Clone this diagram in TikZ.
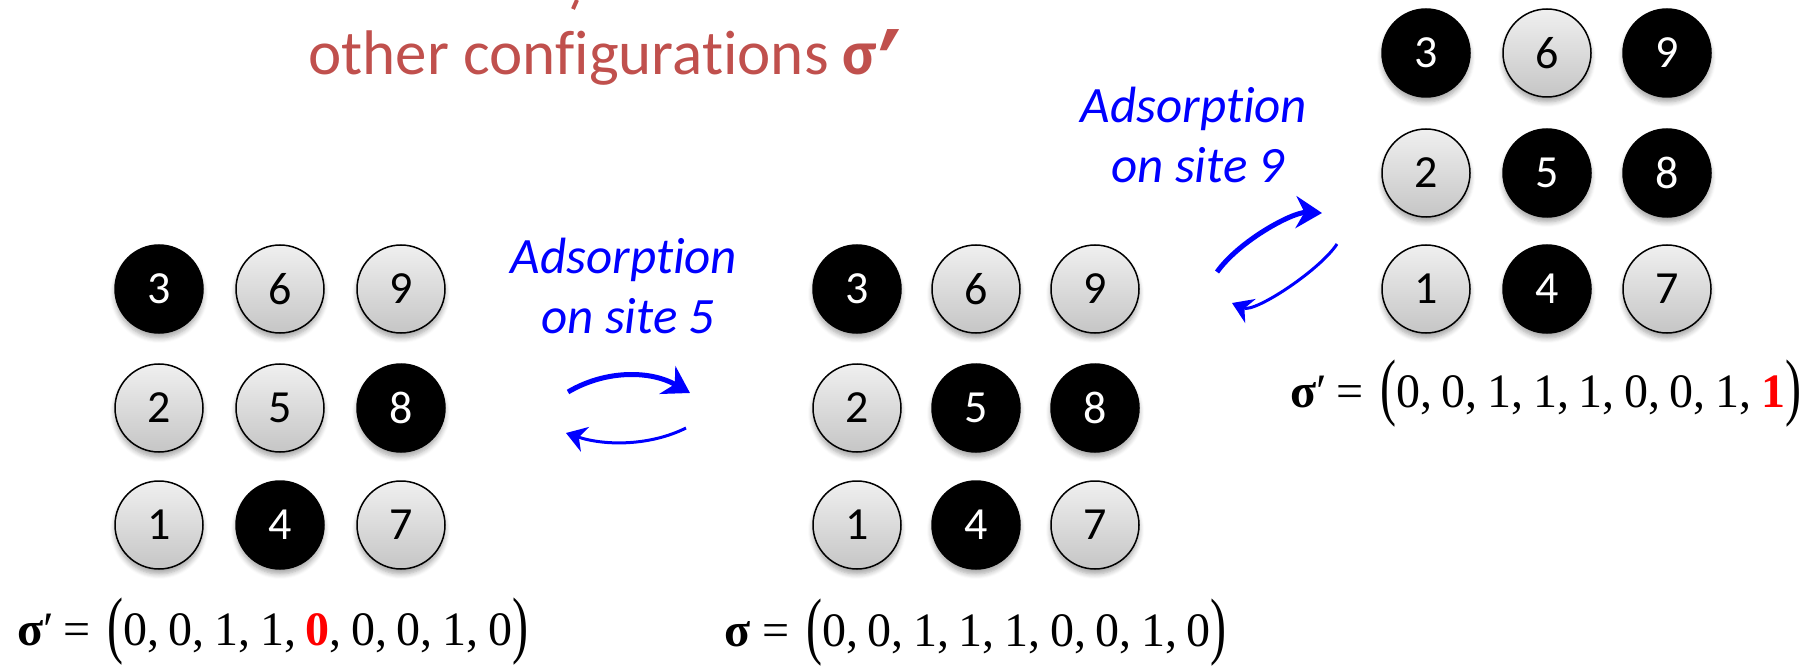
\documentclass[tikz,border=0pt]{standalone}
\usepackage{graphicx}
\usepackage{fontspec}
\setmainfont{Carlito}[Ligatures={NoCommon,NoContextual}]
\newfontfamily\tnr{Liberation Serif}
\newfontfamily\djv{DejaVu Sans}
\usetikzlibrary{arrows.meta,shadows.blur}
\definecolor{titlered}{RGB}{192,80,77}
\definecolor{eqred}{RGB}{255,0,0}
\newcommand\tallpar[1]{\raisebox{-4pt}{\scalebox{1}[1.55]{#1}}}
\newcommand\csep{,\hspace{0.2em}}
\tikzset{
 site/.style={circle, minimum size=88pt, inner sep=0pt, line width=1.5pt,
   font=\fontsize{46}{46}\selectfont,
   blur shadow={shadow xshift=0pt, shadow yshift=-5pt, shadow blur steps=6,
     shadow opacity=35, shadow blur radius=5pt}},
 siteoff/.style={site, draw=black, top color=gray!12, bottom color=gray!45, text=black},
 siteon/.style={site, fill=black, draw=black, text=white},
 lab/.style={text=blue, font=\fontsize{51}{60}\selectfont\itshape, anchor=base, inner sep=0pt},
 eq/.style={anchor=base west, inner sep=0pt, font=\tnr\fontsize{48}{48}\selectfont},
 fwd/.style={blue, line width=5pt, -{Stealth[length=26pt,width=32pt]}},
 bwd/.style={blue, line width=3pt, -{Stealth[length=20pt,width=26pt]}},
}
\begin{document}
\begin{tikzpicture}[x=1pt,y=-1pt]
\useasboundingbox (0,0) rectangle (1816,671);
% title
\node[anchor=base east, inner sep=0pt, text=titlered, font=\fontsize{63}{63}\selectfont] (title) at (902,75) {other configurations {\bfseries σ}\hspace{0.02em}\raisebox{-40pt}{\scalebox{1.4}[1.85]{\djv\bfseries ′}}};
\draw[titlered, line width=4pt] (577,0) -- (573,9);
% left grid
\foreach \n/\x/\y/\s in {3/159/289/siteon, 6/280/289/siteoff, 9/401/289/siteoff,
  2/159/408/siteoff, 5/280/408/siteoff, 8/401/408/siteon,
  1/159/525/siteoff, 4/280/525/siteon, 7/401/525/siteoff}
  \node[\s] (L\n) at (\x,\y) {\n};
% middle grid
\foreach \n/\x/\y/\s in {3/857/289/siteon, 6/976/289/siteoff, 9/1095/289/siteoff,
  2/857/408/siteoff, 5/976/408/siteon, 8/1095/408/siteon,
  1/857/525/siteoff, 4/976/525/siteon, 7/1095/525/siteoff}
  \node[\s] (M\n) at (\x,\y) {\n};
% right grid
\foreach \n/\x/\y/\s in {3/1426/53/siteon, 6/1547/53/siteoff, 9/1667/53/siteon,
  2/1426/173/siteoff, 5/1547/173/siteon, 8/1667/173/siteon,
  1/1426/289/siteoff, 4/1547/289/siteon, 7/1667/289/siteoff}
  \node[\s] (R\n) at (\x,\y) {\n};
% labels
\node[lab] (l5a) at (624,273) {Adsorption};
\node[lab] (l5b) at (628,333) {on site 5};
\node[lab] (l9a) at (1194,123) {Adsorption};
\node[lab] (l9b) at (1198,183) {on site 9};
% arrows
\coordinate (a1s) at (568,392); \coordinate (a1e) at (690,393);
\coordinate (b1s) at (686,428); \coordinate (b1e) at (566,433);
\coordinate (a2s) at (1217,272); \coordinate (a2e) at (1322,213);
\coordinate (b2s) at (1337,244); \coordinate (b2e) at (1232,303);
\draw[fwd] (a1s) .. controls (605,370) and (650,370) .. (a1e);
\draw[bwd] (b1s) .. controls (650,446) and (605,446) .. (b1e);
\draw[fwd] (a2s) .. controls (1240,240) and (1293,212) .. (a2e);
\draw[bwd] (b2s) .. controls (1320,270) and (1255,313) .. (b2e);
% formulas
\node[eq] (eqL) at (17,645) {{\bfseries σ}′\hspace{0.2em}=\hspace{0.35em}\tallpar{(}0\csep 0\csep 1\csep 1\csep {\color{eqred}\bfseries 0}\csep 0\csep 0\csep 1\csep 0\tallpar{)}};
\node[eq] (eqM) at (724,646) {{\bfseries σ}\hspace{0.25em}=\hspace{0.35em}\tallpar{(}0\csep 0\csep 1\csep 1\csep 1\csep 0\csep 0\csep 1\csep 0\tallpar{)}};
\node[eq] (eqR) at (1290,407) {{\bfseries σ}′\hspace{0.2em}=\hspace{0.35em}\tallpar{(}0\csep 0\csep 1\csep 1\csep 1\csep 0\csep 0\csep 1\csep {\color{eqred}\bfseries 1}\tallpar{)}};
\end{tikzpicture}
\end{document}
